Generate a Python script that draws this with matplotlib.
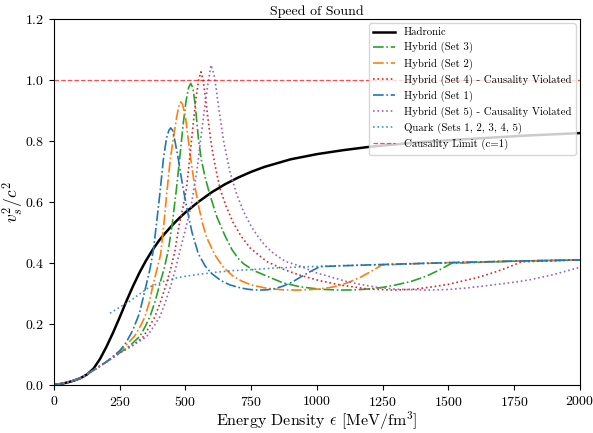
import matplotlib
matplotlib.use('Agg')
import matplotlib.pyplot as plt
import numpy as np

plt.rcParams['font.family'] = 'serif'
plt.rcParams['font.serif'] = ['cmr10']
plt.rcParams['mathtext.fontset'] = 'cm'
plt.rcParams['axes.formatter.use_mathtext'] = True
plt.rcParams['axes.unicode_minus'] = False

#-----------------------------------------------------------------------------
# values
eps_had = [0, 25, 50, 75, 100, 125, 150, 175, 200, 225, 250, 275, 300, 325, 350, 375, 400, 425, 450,
           475, 500, 550, 600, 650, 700, 750, 800, 900, 1000, 1100, 1200, 1400, 1600, 1800, 2000]
cs2_had = [0, 0.003, 0.008, 0.014, 0.022, 0.034, 0.053, 0.085, 0.126, 0.172, 0.222, 0.274, 0.323, 0.368,
           0.408, 0.443, 0.474, 0.50, 0.524, 0.546, 0.566, 0.601, 0.632, 0.658, 0.68, 0.699, 0.715, 0.74,
           0.757, 0.77, 0.781, 0.797, 0.808, 0.818, 0.826]

eps_set1 = [0, 50, 100, 150, 200, 250, 275, 300, 325, 350, 365, 378, 390, 403, 416, 428, 437, 444, 451,
            460, 473, 488, 504, 525, 549, 575, 600, 635, 669, 710, 745, 780, 810, 840, 871, 905, 940, 975,
            1011, 1100, 1250, 1500, 1750, 2000]
cs2_set1 = [0, 0.008, 0.022, 0.048, 0.076, 0.112, 0.14, 0.18, 0.235, 0.325, 0.38, 0.443, 0.53, 0.63,
            0.74, 0.81, 0.835, 0.843, 0.835, 0.80, 0.74, 0.66, 0.585, 0.5, 0.43, 0.39, 0.365, 0.342, 0.328,
            0.318, 0.313, 0.311, 0.312, 0.316, 0.324, 0.337, 0.355, 0.372, 0.388, 0.391, 0.395, 0.401,
            0.406, 0.41]

eps_set2 = [0, 50, 100, 150, 200, 250, 280, 308, 330, 346, 362, 378, 392, 406, 418, 428, 441, 454, 468,
            476, 482, 489, 500, 510, 517, 532, 549, 565, 580, 612, 645, 681, 715, 750, 809, 870, 935, 1000,
            1061, 1110, 1163, 1205, 1246, 1350, 1500, 1750, 2000]
cs2_set2 = [0, 0.008, 0.022, 0.048, 0.076, 0.11, 0.135, 0.162, 0.195, 0.224, 0.27, 0.333, 0.38, 0.43,
            0.53, 0.62, 0.73, 0.81, 0.885, 0.918, 0.928, 0.92, 0.88, 0.81, 0.76, 0.67, 0.59, 0.53, 0.485,
            0.426, 0.385, 0.357, 0.34, 0.328, 0.317, 0.312, 0.311, 0.314, 0.321, 0.333, 0.352, 0.372,
            0.393, 0.397, 0.401, 0.406, 0.41]

eps_set3 = [0, 50, 100, 150, 200, 250, 290, 327, 346, 365, 385, 403, 420, 435, 450, 466, 480, 492, 502,
            512, 520, 528, 537, 549, 560, 575, 593, 620, 650, 676, 700, 720, 760, 809, 870, 935, 1010,
            1087, 1150, 1200, 1250, 1300, 1360, 1417, 1465, 1512, 1750, 2000]
cs2_set3 = [0, 0.008, 0.022, 0.048, 0.076, 0.105, 0.13, 0.16, 0.19, 0.224, 0.275, 0.333, 0.385, 0.443,
            0.53, 0.645, 0.76, 0.86, 0.93, 0.975, 0.989, 0.975, 0.92, 0.81, 0.74, 0.68, 0.623, 0.55, 0.49,
            0.445, 0.415, 0.398, 0.375, 0.357, 0.335, 0.322, 0.314, 0.311, 0.312, 0.315, 0.32, 0.328,
            0.34, 0.357, 0.377, 0.399, 0.406, 0.41]

eps_set4 = [0, 50, 100, 150, 200, 250, 300, 340, 362, 384, 406, 428, 445, 460, 475, 490, 504, 518, 530,
            540, 550, 559, 567, 575, 587, 600, 615, 631, 655, 680, 710, 745, 780, 809, 870, 935, 1010,
            1087, 1190, 1290, 1370, 1441, 1500, 1544, 1610, 1670, 1725, 1778, 2000]
cs2_set4 = [0, 0.008, 0.022, 0.048, 0.076, 0.105, 0.13, 0.158, 0.19, 0.224, 0.275, 0.333, 0.385, 0.44,
            0.52, 0.58, 0.645, 0.76, 0.86, 0.94, 1.0, 1.027, 1.0, 0.95, 0.863, 0.78, 0.71, 0.645, 0.585,
            0.535, 0.49, 0.45, 0.425, 0.405, 0.38, 0.36, 0.342, 0.328, 0.315, 0.311, 0.314, 0.322, 0.33,
            0.339, 0.352, 0.368, 0.385, 0.404, 0.41]

eps_set5 = [0, 50, 100, 150, 200, 250, 300, 352, 378, 403, 425, 447, 465, 480, 500, 520, 543, 560, 574,
            586, 597, 608, 617, 625, 645, 669, 695, 720, 750, 777, 805, 834, 880, 935, 1000, 1061, 1110,
            1163, 1230, 1300, 1417, 1500, 1569, 1630, 1696, 1760, 1810, 1900, 2000]
cs2_set5 = [0, 0.008, 0.022, 0.048, 0.076, 0.105, 0.13, 0.158, 0.19, 0.224, 0.275, 0.333, 0.39, 0.443,
            0.51, 0.58, 0.699, 0.82, 0.918, 0.99, 1.049, 1.02, 0.97, 0.918, 0.8, 0.699, 0.625, 0.57, 0.52,
            0.485, 0.455, 0.432, 0.405, 0.39, 0.367, 0.352, 0.34, 0.33, 0.32, 0.314, 0.311, 0.313, 0.318,
            0.324, 0.331, 0.338, 0.345, 0.362, 0.386]

eps_quark = [213, 250, 289, 325, 365, 416, 460, 511, 555, 620, 681, 745, 830, 909, 1011, 1250, 1500, 1750, 2000]
cs2_quark = [0.235, 0.255, 0.275, 0.298, 0.322, 0.339, 0.35, 0.358, 0.363, 0.37, 0.375, 0.378, 0.383,
             0.386, 0.389, 0.395, 0.401, 0.406, 0.41]

#-----------------------------------------------------------------------------

fig = plt.figure(figsize=(5.93, 4.33), dpi=100)
ax = fig.add_axes([0.091, 0.111, 0.887, 0.845])

ax.plot(eps_had, cs2_had, color='black', lw=1.8, label='Hadronic')
ax.plot(eps_set3, cs2_set3, color='C2', ls='-.', lw=1.2, label='Hybrid (Set 3)')
ax.plot(eps_set2, cs2_set2, color='C1', ls='-.', lw=1.2, label='Hybrid (Set 2)')
ax.plot(eps_set4, cs2_set4, color='C3', ls=':', lw=1.2, label='Hybrid (Set 4) - Causality Violated')
ax.plot(eps_set1, cs2_set1, color='C0', ls='-.', lw=1.2, label='Hybrid (Set 1)')
ax.plot(eps_set5, cs2_set5, color='C4', ls=':', lw=1.2, label='Hybrid (Set 5) - Causality Violated')
ax.plot(eps_quark, cs2_quark, color='C0', ls=':', lw=1.2, alpha=0.8, label='Quark (Sets 1, 2, 3, 4, 5)')
ax.axhline(1.0, color='red', ls='--', lw=0.9, alpha=0.7, label='Causality Limit (c=1)')

ax.set_xlim(0, 2000)
ax.set_ylim(0, 1.2)
ax.set_xticks(np.arange(0, 2001, 250))
ax.set_title('Speed of Sound', fontsize=10, pad=3)
ax.set_xlabel(r'Energy Density $\epsilon$ [MeV/fm$^3$]', fontsize=11.5, labelpad=1)
ax.set_ylabel(r'$v_s^2/c^2$', fontsize=12.5)
ax.yaxis.set_label_coords(-0.054, 0.5)
ax.tick_params(labelsize=10)
ax.legend(loc='upper right', fontsize=7.8, borderaxespad=0.4, labelspacing=0.45)

plt.savefig('out.png', dpi=100)
